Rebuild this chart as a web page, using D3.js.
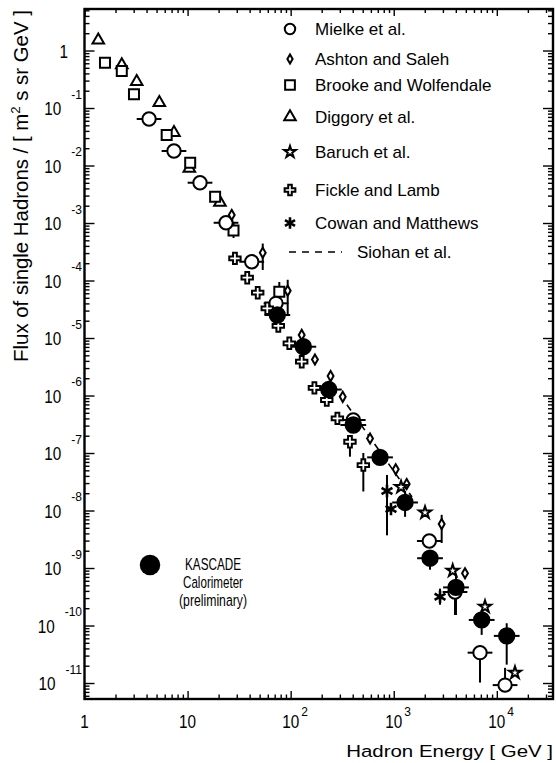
<!DOCTYPE html>
<html><head><meta charset="utf-8">
<script src="https://cdn.jsdelivr.net/npm/d3@7"></script>
<style>
html,body{margin:0;padding:0;background:#fff;}
svg text{font-family:"Liberation Sans",Arial,Helvetica,sans-serif;fill:#000;}
</style></head>
<body>
<svg id="chart" width="556" height="763"></svg>
<script>
// ---- data: [energy GeV, flux, error down (decades), error up (decades)] ----
const mielke = [
  [4.23, 0.0644, 0, 0], [7.38, 0.0179, 0, 0], [13.2, 5.02e-3, 0, 0], [23.6, 1.01e-3, 0, 0],
  [41.9, 2.12e-4, 0, 0], [72.1, 4.01e-5, 0, 0], [405, 3.75e-7, 0, 0], [2213, 2.95e-9, 0.08, 0.08],
  [3930, 3.83e-10, 0.4, 0.1], [6870, 3.37e-11, 0.52, 0.1], [12020, 9.2e-12, 0, 0.3]
];
const ashton = [
  [26.8, 1.38e-3, 0.08, 0.08], [53.6, 3.04e-4, 0.3, 0.16], [93.6, 6.65e-5, 0.42, 0.19],
  [128, 1.13e-5, 0, 0], [172, 4.23e-6, 0, 0], [244, 2.18e-6, 0, 0], [320, 9.5e-7, 0, 0],
  [589, 1.79e-7, 0, 0], [1045, 5.21e-8, 0, 0], [1336, 2.89e-8, 0, 0],
  [2918, 5.82e-9, 0.33, 0.16], [4914, 8.1e-10, 0.05, 0.05]
];
const brooke = [
  [1.58, 0.613, 0, 0], [2.30, 0.44, 0, 0], [3.02, 0.173, 0, 0], [6.27, 0.0339, 0, 0],
  [10.6, 0.0112, 0, 0], [18.5, 2.87e-3, 0, 0], [27.9, 7.41e-4, 0.13, 0.13], [77.6, 6.38e-5, 0.17, 0.17]
];
const diggory = [
  [1.36, 1.52, 0, 0], [2.30, 0.56, 0, 0], [3.21, 0.287, 0, 0], [5.32, 0.124, 0, 0],
  [7.38, 0.0372, 0, 0], [10.4, 8.94e-3, 0, 0], [20.6, 2.29e-3, 0, 0]
];
const baruch = [
  [1177, 2.56e-8, 0, 0], [2012, 9.2e-9, 0, 0], [3733, 8.97e-10, 0, 0],
  [7680, 2.12e-10, 0, 0], [15000, 1.51e-11, 0, 0]
];
const fickle = [
  [28.8, 2.43e-4, 0, 0], [37.9, 1.12e-4, 0, 0], [47.9, 6.14e-5, 0, 0], [59.3, 3.29e-5, 0, 0],
  [75.9, 1.62e-5, 0, 0], [97.0, 8.09e-6, 0, 0], [128, 3.87e-6, 0, 0], [170, 1.36e-6, 0, 0],
  [224, 8.35e-7, 0, 0], [284, 4.01e-7, 0, 0], [376, 1.57e-7, 0.26, 0], [507, 6.18e-8, 0.46, 0.21]
];
const cowan = [
  [860, 2.18e-8, 0.77, 0.28], [940, 1.06e-8, 0, 0], [2812, 3.17e-10, 0.14, 0.14]
];
const kascade = [
  [74.2, 2.51e-5, 0.15, 0.15], [132.7, 7.06e-6, 0.15, 0.15], [234.6, 1.27e-6, 0.15, 0.15],
  [405, 3.07e-7, 0.12, 0.12], [736, 8.4e-8, 0.12, 0.12], [1288, 1.38e-8, 0.25, 0.2],
  [2249, 1.48e-9, 0.2, 0.14], [4018, 4.6e-10, 0.48, 0.21], [7130, 1.25e-10, 0.26, 0.17],
  [12470, 6.6e-11, 0.5, 0.22]
];
const siohan = [[301, 1.02e-6], [1504, 1.72e-8]];
const legendNames = ["Mielke et al.", "Ashton and Saleh", "Brooke and Wolfendale", "Diggory et al.",
  "Baruch et al.", "Fickle and Lamb", "Cowan and Matthews", "Siohan et al."];
const kascadeLabel = ["KASCADE", "Calorimeter", "(preliminary)"];
const xTickExp = [0, 1, 2, 3, 4];
const yTickExp = [0, -1, -2, -3, -4, -5, -6, -7, -8, -9, -10, -11];
const xTitle = "Hadron Energy [ GeV ]";
const yTitleMain = "Flux of single Hadrons / [ m";
const yTitleSup = "2";
const yTitleEnd = " s sr GeV ]";

// ---- scales ----
const svg = d3.select("#chart");
const L = 84.5, R = 553, T = 9, B = 699;
const x = d3.scaleLog().domain([1, Math.pow(10, 4.545)]).range([L, R]);
const y = d3.scaleLog().domain([Math.pow(10, 0.722), Math.pow(10, -11.278)]).range([T, B]);

const xMajor = xTickExp.map(k => Math.pow(10, k));
const xMinor = [];
for (let k = 0; k <= 4; k++) for (let m = 2; m <= 9; m++) { const v = m * Math.pow(10, k); if (v <= x.domain()[1]) xMinor.push(v); }
const yMajor = yTickExp.map(k => Math.pow(10, k));
const yMinor = [];
for (let k = -12; k <= 0; k++) for (let m = 2; m <= 9; m++) {
  const v = m * Math.pow(10, k);
  if (v <= y.domain()[0] && v >= y.domain()[1]) yMinor.push(v);
}

// ---- axes (ticks pointing inward) ----
function axisG(axis, tx, ty) {
  svg.append("g").attr("transform", `translate(${tx},${ty})`).call(axis)
    .call(g => { g.select(".domain").remove(); g.selectAll("text").remove();
      g.selectAll("line").attr("stroke", "#000").attr("stroke-width", 1.4); });
}
const nf = () => "";
axisG(d3.axisBottom(x).tickValues(xMajor).tickSize(-8).tickFormat(nf), 0, B);
axisG(d3.axisBottom(x).tickValues(xMinor).tickSize(-4.5).tickFormat(nf), 0, B);
axisG(d3.axisTop(x).tickValues(xMajor).tickSize(-7).tickFormat(nf), 0, T);
axisG(d3.axisTop(x).tickValues(xMinor).tickSize(-4).tickFormat(nf), 0, T);
axisG(d3.axisLeft(y).tickValues(yMajor).tickSize(-10).tickFormat(nf), L, 0);
axisG(d3.axisLeft(y).tickValues(yMinor).tickSize(-5).tickFormat(nf), L, 0);
axisG(d3.axisRight(y).tickValues(yMajor).tickSize(-10).tickFormat(nf), R, 0);
axisG(d3.axisRight(y).tickValues(yMinor).tickSize(-5).tickFormat(nf), R, 0);

svg.append("rect").attr("x", L).attr("y", T).attr("width", R - L).attr("height", B - T)
  .attr("fill", "none").attr("stroke", "#000").attr("stroke-width", 2.4);

// ---- text helper ----
function txt(parent, tx, ty, str, o) {
  o = o || {};
  const g = parent.append("g").attr("transform", `translate(${tx},${ty})` + (o.rotate ? ` rotate(${o.rotate})` : ""));
  const t = g.append("text").attr("x", 0).attr("y", 0).attr("text-anchor", o.anchor || "start")
    .style("font-size", (o.size || 16) + "px").text(str);
  if (o.width) {
    const w = t.node().getComputedTextLength();
    t.attr("transform", `scale(${o.width / w},1)`);
  } else if (o.sx) {
    t.attr("transform", `scale(${o.sx},1)`);
  }
  return t;
}

// y tick labels
yTickExp.forEach(k => {
  const yy = y(Math.pow(10, k));
  if (k === 0) {
    txt(svg, 68, yy + 7, "1", { size: 18, anchor: "end", sx: 0.85 });
  } else {
    const e = txt(svg, 82, yy - 9.5, "-" + (-k), { size: 12, anchor: "end" });
    const ew = e.node().getComputedTextLength();
    txt(svg, 82 - ew - 10, yy + 7, "10", { size: 18, anchor: "end", sx: 0.85 });
  }
});
// x tick labels
xTickExp.forEach(k => {
  const xx = x(Math.pow(10, k));
  if (k === 0) txt(svg, xx, 728, "1", { size: 18, anchor: "middle", sx: 0.85 });
  else {
    txt(svg, xx, 728, "10", { size: 18, anchor: "middle", sx: 0.85 });
    if (k > 1) txt(svg, xx + 10.5, 716, String(k), { size: 12 });
  }
});

// axis titles
txt(svg, R, 757, xTitle, { size: 17, anchor: "end", width: 207 });
{
  const g = svg.append("g").attr("transform", "translate(28,186) rotate(-90)");
  const t = g.append("text").attr("text-anchor", "middle").style("font-size", "20px");
  t.append("tspan").text(yTitleMain);
  t.append("tspan").attr("dy", -8).style("font-size", "13px").text(yTitleSup);
  t.append("tspan").attr("dy", 8).text(yTitleEnd);
  const w = t.node().getComputedTextLength();
  t.attr("transform", `scale(${352 / w},1)`);
}

// ---- marks ----
const plot = svg.append("g");
const SW = 2;
function errorBars(data, dx) {
  data.forEach(d => {
    const cx = x(d[0]), cy = y(d[1]);
    if (dx) plot.append("line").attr("x1", x(d[0] / Math.pow(10, dx))).attr("x2", x(d[0] * Math.pow(10, dx)))
      .attr("y1", cy).attr("y2", cy).attr("stroke", "#000").attr("stroke-width", SW);
    if (d[2] || d[3]) plot.append("line").attr("x1", cx).attr("x2", cx)
      .attr("y1", y(d[1] / Math.pow(10, d[2]))).attr("y2", y(d[1] * Math.pow(10, d[3])))
      .attr("stroke", "#000").attr("stroke-width", SW);
  });
}
function markers(data, type, size, filled, strokeOnly) {
  const gen = d3.symbol(type, size);
  plot.selectAll(null).data(data).enter().append("path")
    .attr("transform", d => `translate(${x(d[0])},${y(d[1])})`)
    .attr("d", gen)
    .attr("fill", strokeOnly ? "none" : (filled ? "#000" : "#fff"))
    .attr("stroke", "#000").attr("stroke-width", strokeOnly ? 2.6 : SW);
}

errorBars(mielke, 0.12);
errorBars(ashton, 0);
errorBars(brooke, 0);
errorBars(fickle, 0);
errorBars(cowan, 0);
errorBars(kascade, 0.125);

// Siohan dashed line
plot.append("path").datum(siohan)
  .attr("d", d3.line().x(d => x(d[0])).y(d => y(d[1])))
  .attr("fill", "none").attr("stroke", "#000").attr("stroke-width", 1.6).attr("stroke-dasharray", "7,5");

markers(diggory, d3.symbolTriangle, 58, false);
markers(brooke, d3.symbolSquare, 100, false);
markers(mielke, d3.symbolCircle, 140, false);
markers(fickle, d3.symbolCross, 72, false);
markers(ashton, d3.symbolDiamond, 30, false);
markers(baruch, d3.symbolStar, 46, false);
markers(cowan, d3.symbolAsterisk, 110, false, true);
markers(kascade, d3.symbolCircle, 185, true);

// ---- legend ----
const legY = [29, 59, 85, 117, 152, 190, 223, 252];
const legSym = [
  [d3.symbolCircle, 85, false], [d3.symbolDiamond, 24, false], [d3.symbolSquare, 95, false],
  [d3.symbolTriangle, 58, false], [d3.symbolStar, 42, false], [d3.symbolCross, 64, false],
  [d3.symbolAsterisk, 95, true]
];
const leg = svg.append("g");
legendNames.forEach((name, i) => {
  if (i < 7) {
    const s = legSym[i];
    leg.append("path").attr("transform", `translate(290,${legY[i]})`).attr("d", d3.symbol(s[0], s[1]))
      .attr("fill", s[2] ? "none" : "#fff").attr("stroke", "#000").attr("stroke-width", s[2] ? 2.6 : 2);
    txt(leg, 315, legY[i] + 6, name, { size: 17 });
  } else {
    leg.append("line").attr("x1", 289).attr("x2", 342).attr("y1", legY[i]).attr("y2", legY[i])
      .attr("stroke", "#000").attr("stroke-width", 1.6).attr("stroke-dasharray", "7,6");
    txt(leg, 357, legY[i] + 6, name, { size: 17 });
  }
});

// KASCADE legend block
leg.append("path").attr("transform", "translate(150,565)").attr("d", d3.symbol(d3.symbolCircle, 330)).attr("fill", "#000");
const kw = [56, 60, 68];
kascadeLabel.forEach((s, i) => txt(leg, 213, 570 + i * 18, s, { size: 16.5, anchor: "middle", width: kw[i] }));
</script>
</body></html>
